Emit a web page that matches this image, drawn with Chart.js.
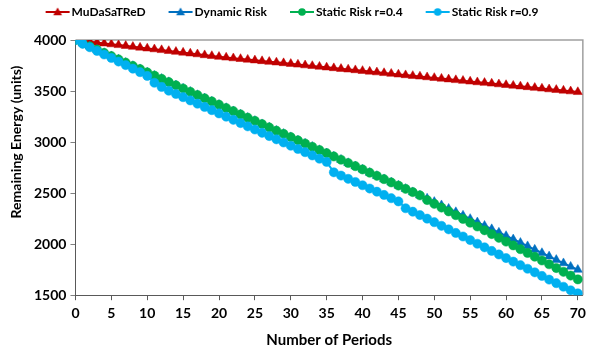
<!DOCTYPE html>
<html>
<head>
<meta charset="utf-8">
<script src="https://cdn.jsdelivr.net/npm/chart.js@4.4.1/dist/chart.umd.min.js"></script>
<style>
html,body{margin:0;padding:0;background:#fff;}
#wrap{width:591px;height:352px;position:relative;}
</style>
</head>
<body>
<div id="wrap"><canvas id="c"></canvas></div>
<script>
const periods = [0,1,2,3,4,5,6,7,8,9,10,11,12,13,14,15,16,17,18,19,20,21,22,23,24,25,26,27,28,29,30,31,32,33,34,35,36,37,38,39,40,41,42,43,44,45,46,47,48,49,50,51,52,53,54,55,56,57,58,59,60,61,62,63,64,65,66,67,68,69,70];
const xTickValues = [0,5,10,15,20,25,30,35,40,45,50,55,60,65,70];
const yTickValues = [1500,2000,2500,3000,3500,4000];
const seriesNames = ['MuDaSaTReD','Dynamic Risk','Static Risk r=0.4','Static Risk r=0.9'];
const xAxisTitle = 'Number of Periods';
const yAxisTitle = 'Remaining Energy (units)';

const mudasatred = [4000,3992,3984,3975,3967,3959,3951,3943,3934,3926,
  3918,3910,3902,3893,3885,3877,3869,3861,3852,3844,
  3836,3829,3822,3815,3808,3801,3794,3787,3781,3774,
  3767,3760,3753,3746,3739,3732,3725,3718,3712,3705,
  3698,3691,3684,3677,3670,3663,3656,3649,3643,3636,
  3629,3622,3615,3608,3601,3594,3587,3581,3574,3567,
  3560,3553,3546,3539,3532,3525,3518,3512,3505,3498,
  3491];
const dynamicRisk = [4000,3968,3937,3905,3873,3842,3810,3778,3746,3715,
  3683,3651,3620,3588,3556,3525,3493,3461,3429,3398,
  3366,3334,3303,3271,3239,3208,3176,3144,3112,3081,
  3049,3017,2986,2954,2922,2891,2859,2827,2795,2764,
  2732,2700,2669,2637,2605,2574,2542,2510,2478,2448,
  2415,2382,2348,2315,2281,2248,2215,2181,2148,2114,
  2081,2048,2014,1981,1947,1914,1881,1847,1814,1780,
  1750];
const staticRisk04 = [4000,3968,3937,3905,3873,3842,3810,3778,3746,3715,
  3683,3651,3620,3588,3556,3525,3493,3461,3429,3398,
  3366,3334,3303,3271,3239,3208,3176,3144,3112,3081,
  3049,3017,2986,2954,2922,2891,2859,2827,2795,2764,
  2732,2700,2669,2637,2605,2574,2542,2510,2478,2432,
  2395,2358,2321,2284,2247,2210,2173,2136,2099,2062,
  2025,1988,1951,1914,1877,1840,1803,1766,1729,1692,
  1655];
const staticRisk09 = [4000,3963,3929,3893,3858,3824,3789,3754,3719,3685,
  3648,3581,3540,3503,3471,3440,3408,3376,3344,3313,
  3281,3249,3218,3186,3154,3123,3091,3059,3027,2996,
  2964,2932,2901,2869,2837,2806,2704,2672,2640,2609,
  2577,2545,2514,2482,2450,2419,2352,2318,2285,2250,
  2215,2180,2145,2110,2075,2040,2004,1969,1934,1899,
  1864,1829,1794,1759,1724,1689,1653,1618,1583,1548,
  1518];

const seriesValues = [mudasatred, dynamicRisk, staticRisk04, staticRisk09];
const seriesColors = ['#C00000','#0070C0','#00B050','#00B0F0'];
const seriesMarkers = ['triangle','triangle','circle','circle'];
const seriesRadius = [5.2,5.2,4.6,4.6];

const FONT = "Lato, 'Open Sans', sans-serif";

function legendIcon(color, marker) {
  const c = document.createElement('canvas');
  c.width = 48; c.height = 12;
  const g = c.getContext('2d');
  g.strokeStyle = color; g.lineWidth = 2;
  g.beginPath(); g.moveTo(23, 6); g.lineTo(47, 6); g.stroke();
  g.fillStyle = color;
  g.beginPath();
  if (marker === 'circle') {
    g.arc(35, 6, 3.8, 0, Math.PI * 2);
  } else {
    g.moveTo(35, 1.6); g.lineTo(39.4, 9.2); g.lineTo(30.6, 9.2); g.closePath();
  }
  g.fill();
  return c;
}
const legendIcons = seriesColors.map((c, i) => legendIcon(c, seriesMarkers[i]));

const legendSpacingPlugin = {
  id: 'legendSpacing',
  beforeInit(chart) {
    const lg = chart.legend;
    if (!lg) return;
    const orig = lg.fit;
    lg.fit = function () { orig.call(this); this.height += 12; };
  },
  afterLayout(chart) {
    const lg = chart.legend;
    if (!lg) return;
    lg.left -= 12;
    lg.right -= 12;
  }
};

const framePlugin = {
  id: 'frame',
  beforeDatasetsDraw(chart) {
    const {ctx, chartArea: a} = chart;
    ctx.save();
    ctx.strokeStyle = '#A0A0A0';
    ctx.lineWidth = 1.5;
    ctx.beginPath();
    ctx.moveTo(a.left, a.top);
    ctx.lineTo(a.right, a.top);
    ctx.lineTo(a.right, a.bottom);
    ctx.stroke();
    ctx.restore();
  }
};

const yTitlePlugin = {
  id: 'ytitle',
  afterDraw(chart) {
    const {ctx, chartArea: a} = chart;
    ctx.save();
    ctx.translate(16, a.top + 102);
    ctx.rotate(-Math.PI / 2);
    ctx.font = "bold 14px " + FONT;
    ctx.fillStyle = '#000';
    ctx.textAlign = 'center';
    ctx.textBaseline = 'middle';
    ctx.fillText(yAxisTitle, 0, 0);
    ctx.restore();
  }
};

const datasets = seriesNames.map((name, i) => ({
  label: name,
  data: periods.map((p, j) => ({x: p, y: seriesValues[i][j]})),
  borderColor: seriesColors[i],
  backgroundColor: seriesColors[i],
  pointBackgroundColor: seriesColors[i],
  pointBorderColor: seriesColors[i],
  pointBorderWidth: 0.5,
  pointStyle: seriesMarkers[i],
  pointRadius: seriesRadius[i],
  borderWidth: 2,
  tension: 0,
  order: seriesNames.length - i
}));

new Chart(document.getElementById('c'), {
  type: 'line',
  data: {datasets},
  options: {
    responsive: true,
    maintainAspectRatio: false,
    animation: false,
    events: [],
    layout: {padding: {left: 0, right: 1, top: 1, bottom: 3}},
    plugins: {
      tooltip: {enabled: false},
      legend: {
        display: true,
        position: 'top',
        labels: {
          usePointStyle: true,
          pointStyleWidth: 38,
          boxHeight: 12,
          padding: 5,
          color: '#000',
          font: {family: FONT, size: 12, weight: 'bold'},
          generateLabels(chart) {
            return chart.data.datasets.map((ds, i) => ({
              text: ds.label,
              fillStyle: seriesColors[i],
              strokeStyle: seriesColors[i],
              lineWidth: 0,
              pointStyle: legendIcons[i],
              datasetIndex: i,
              hidden: false
            }));
          }
        }
      }
    },
    scales: {
      x: {
        type: 'linear',
        min: 0,
        max: 70.7,
        afterBuildTicks(scale) { scale.ticks = xTickValues.map(v => ({value: v})); },
        ticks: {color: '#000', font: {family: FONT, size: 14, weight: 'bold'}, padding: 5, maxRotation: 0, autoSkip: false,
                callback: v => String(v)},
        grid: {display: true, drawOnChartArea: false, drawTicks: true, tickLength: 5, tickColor: '#595959'},
        border: {display: true, color: '#595959', width: 1},
        title: {display: true, text: xAxisTitle, color: '#000', font: {family: FONT, size: 15, weight: 'bold'}, padding: {top: 4, bottom: 0}}
      },
      y: {
        type: 'linear',
        min: 1500,
        max: 4000,
        afterBuildTicks(scale) { scale.ticks = yTickValues.map(v => ({value: v})); },
        afterFit(scale) { scale.width += 30; },
        ticks: {color: '#000', font: {family: FONT, size: 14, weight: 'bold'}, padding: 4,
                callback: v => String(v)},
        grid: {display: true, drawOnChartArea: false, drawTicks: true, tickLength: 5, tickColor: '#808080'},
        border: {display: true, color: '#595959', width: 1}
      }
    }
  },
  plugins: [legendSpacingPlugin, framePlugin, yTitlePlugin]
});
</script>
</body>
</html>
